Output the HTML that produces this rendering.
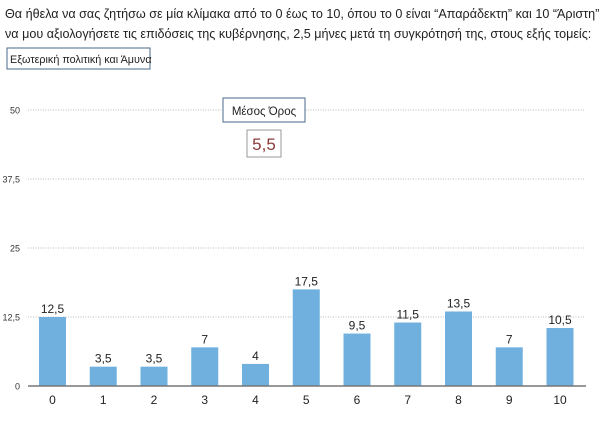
<!DOCTYPE html>
<html><head><meta charset="utf-8"><style>
body{margin:0;background:#fff;width:600px;height:427px;overflow:hidden;font-family:"Liberation Sans","DejaVu Sans",sans-serif}
</style></head><body>
<svg width="600" height="427" viewBox="0 0 600 427" xmlns="http://www.w3.org/2000/svg" font-family="Liberation Sans, DejaVu Sans, sans-serif">
<text x="5" y="18" font-size="12.6" fill="#222">Θα ήθελα να σας ζητήσω σε μία κλίμακα από το 0 έως το 10, όπου το 0 είναι “Απαράδεκτη” και 10 “Άριστη”</text>
<text x="5" y="38" font-size="12.6" fill="#222">να μου αξιολογήσετε τις επιδόσεις της κυβέρνησης, 2,5 μήνες μετά τη συγκρότησή της, στους εξής τομείς:</text>
<rect x="7" y="48" width="143" height="21" fill="#fff" stroke="#4a6a8a" stroke-width="1"/>
<text x="10" y="63" font-size="10.8" fill="#222">Εξωτερική πολιτική και Άμυνα</text>
<g id="grid"></g>
<rect x="223" y="98" width="82" height="24" fill="#fff" stroke="#4a6a8a"/>
<text x="264" y="115" font-size="11.5" fill="#222" text-anchor="middle">Μέσος Όρος</text>
<rect x="247" y="130" width="34" height="27" fill="#fff" stroke="#999"/>
<text x="264" y="150" font-size="17" fill="#8b3a3a" text-anchor="middle">5,5</text>
<g id="bars"></g>
</svg>
<script>
const categories=["0","1","2","3","4","5","6","7","8","9","10"];
const values=[12.5,3.5,3.5,7,4,17.5,9.5,11.5,13.5,7,10.5];
const valueLabels=["12,5","3,5","3,5","7","4","17,5","9,5","11,5","13,5","7","10,5"];
const yTicks=[0,12.5,25,37.5,50];
const yTickLabels=["0","12,5","25","37,5","50"];
const NS="http://www.w3.org/2000/svg";
const y=v=>386-v*5.52;
const x=i=>52.5+i*50.75;
const grid=document.getElementById('grid'),bars=document.getElementById('bars');
function mk(tag,attrs,parent,txt){const e=document.createElementNS(NS,tag);for(const k in attrs)e.setAttribute(k,attrs[k]);if(txt!==undefined)e.textContent=txt;parent.appendChild(e);return e;}
yTicks.forEach((t,i)=>{
  if(t>0){const l=mk('line',{x1:28,x2:585,y1:y(t),y2:y(t),stroke:'#bbb','stroke-dasharray':'1,1.5','stroke-width':1},grid);
  
  }
  const tx=mk('text',{x:20,y:y(t)+3.5,'font-size':9,fill:'#333','text-anchor':'end'},grid,yTickLabels[i]);
  
  
});
values.forEach((v,i)=>{
  const r=mk('rect',{x:x(i)-13.5,y:y(v),width:27,height:386-y(v),fill:'#6fb0de'},bars);
  
  
  const vl=mk('text',{x:x(i),y:y(v)-4,'font-size':12,fill:'#222','text-anchor':'middle'},bars,valueLabels[i]);
  
  
  const cl=mk('text',{x:x(i),y:404,'font-size':12,fill:'#222','text-anchor':'middle'},bars,categories[i]);
  
  
});
const ax=mk('line',{x1:28,x2:586,y1:386,y2:386,stroke:'#777','stroke-width':1.5},bars);


</script>
</body></html>
